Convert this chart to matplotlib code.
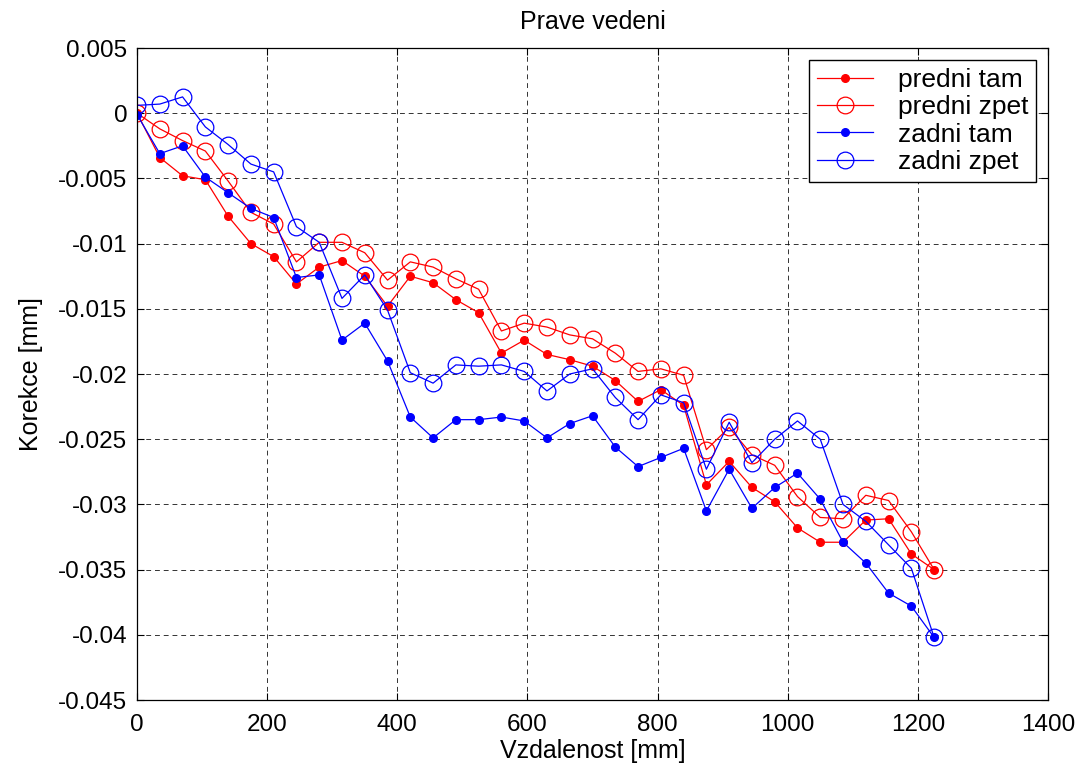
import matplotlib
matplotlib.use("Agg")
import matplotlib.pyplot as plt
import numpy as np

plt.rcParams['font.family'] = ['Liberation Sans', 'DejaVu Sans']

distance = [0, 35, 70, 105, 140, 175, 210, 245, 280, 315, 350, 385, 420, 455, 490, 525,
            560, 595, 630, 665, 700, 735, 770, 805, 840, 875, 910, 945, 980, 1015, 1050,
            1085, 1120, 1155, 1190, 1225]

predni_tam = [0.0, -0.0034, -0.0048, -0.0051, -0.0079, -0.0100, -0.0110, -0.0131, -0.0118,
              -0.0113, -0.0125, -0.0148, -0.0125, -0.0130, -0.0143, -0.0153, -0.0184, -0.0174,
              -0.0185, -0.0189, -0.0194, -0.0205, -0.0221, -0.0212, -0.0224, -0.0285, -0.0267,
              -0.0287, -0.0298, -0.0318, -0.0329, -0.0329, -0.0312, -0.0311, -0.0338, -0.0350]

predni_zpet = [0.0, -0.0012, -0.0021, -0.0029, -0.0052, -0.0076, -0.0085, -0.0114, -0.0099,
               -0.0099, -0.0107, -0.0128, -0.0114, -0.0118, -0.0127, -0.0135, -0.0167, -0.0161,
               -0.0164, -0.0170, -0.0173, -0.0184, -0.0198, -0.0196, -0.0201, -0.0258, -0.0241,
               -0.0262, -0.0270, -0.0294, -0.0310, -0.0311, -0.0293, -0.0297, -0.0321, -0.0350]

zadni_tam = [-0.0001, -0.0031, -0.0025, -0.0049, -0.0061, -0.0073, -0.0080, -0.0126, -0.0124,
             -0.0174, -0.0161, -0.0190, -0.0233, -0.0249, -0.0235, -0.0235, -0.0233, -0.0236,
             -0.0249, -0.0238, -0.0232, -0.0256, -0.0271, -0.0264, -0.0257, -0.0305, -0.0273,
             -0.0303, -0.0287, -0.0276, -0.0296, -0.0329, -0.0345, -0.0368, -0.0378, -0.0402]

zadni_zpet = [0.0006, 0.0007, 0.00125, -0.00105, -0.0024, -0.0039, -0.0045, -0.0087, -0.0099,
              -0.0142, -0.0124, -0.0151, -0.0199, -0.0207, -0.0193, -0.0194, -0.0193, -0.0198,
              -0.0213, -0.0200, -0.0196, -0.0218, -0.0235, -0.0216, -0.0222, -0.0273, -0.0237,
              -0.0268, -0.0250, -0.0236, -0.0250, -0.0300, -0.0313, -0.0331, -0.0349, -0.0402]

labels = ['predni tam', 'predni zpet', 'zadni tam', 'zadni zpet']
xticks = [0, 200, 400, 600, 800, 1000, 1200, 1400]
yticks = [-0.045, -0.04, -0.035, -0.03, -0.025, -0.02, -0.015, -0.01, -0.005, 0, 0.005]
yticklabels = ['-0.045', '-0.04', '-0.035', '-0.03', '-0.025', '-0.02', '-0.015', '-0.01',
               '-0.005', '0', '0.005']

fig = plt.figure(figsize=(10.84, 7.73), dpi=100)
ax = fig.add_axes([0.1264, 0.0944, 0.8404, 0.8435])

lw = 0.9
ax.plot(distance, predni_tam, color='red', lw=lw, marker='o', markersize=5.5,
        markerfacecolor='red', markeredgecolor='red', label=labels[0])
ax.plot(distance, predni_zpet, color='red', lw=lw, marker='o', markersize=12,
        markerfacecolor='none', markeredgecolor='red', markeredgewidth=0.9, label=labels[1])
ax.plot(distance, zadni_tam, color='blue', lw=lw, marker='o', markersize=5.5,
        markerfacecolor='blue', markeredgecolor='blue', label=labels[2])
ax.plot(distance, zadni_zpet, color='blue', lw=lw, marker='o', markersize=12,
        markerfacecolor='none', markeredgecolor='blue', markeredgewidth=0.9, label=labels[3])

ax.set_xlim(0, 1400)
ax.set_ylim(-0.045, 0.005)
ax.set_xticks(xticks)
ax.set_yticks(yticks)
ax.set_yticklabels(yticklabels)
ax.tick_params(direction='in', top=True, right=True, labelsize=17.5, length=5, width=0.8)
ax.tick_params(axis='x', pad=10)
ax.tick_params(axis='y', pad=7)
ax.grid(True, color='black', linestyle=(0, (5, 4)), linewidth=0.7, alpha=0.8)
for s in ax.spines.values():
    s.set_linewidth(0.9)

ax.set_title('Prave vedeni', fontsize=18, pad=14)
ax.set_xlabel('Vzdalenost [mm]', fontsize=18, labelpad=2)
ax.set_ylabel('Korekce [mm]', fontsize=18, labelpad=11)

leg = ax.legend(loc='upper right', fontsize=19, fancybox=False, framealpha=1,
                edgecolor='black', borderaxespad=0.45, handlelength=2.1,
                handletextpad=0.95, labelspacing=0.13, borderpad=0.3)
leg.get_frame().set_linewidth(1.0)

fig.savefig('out.png', dpi=100)
